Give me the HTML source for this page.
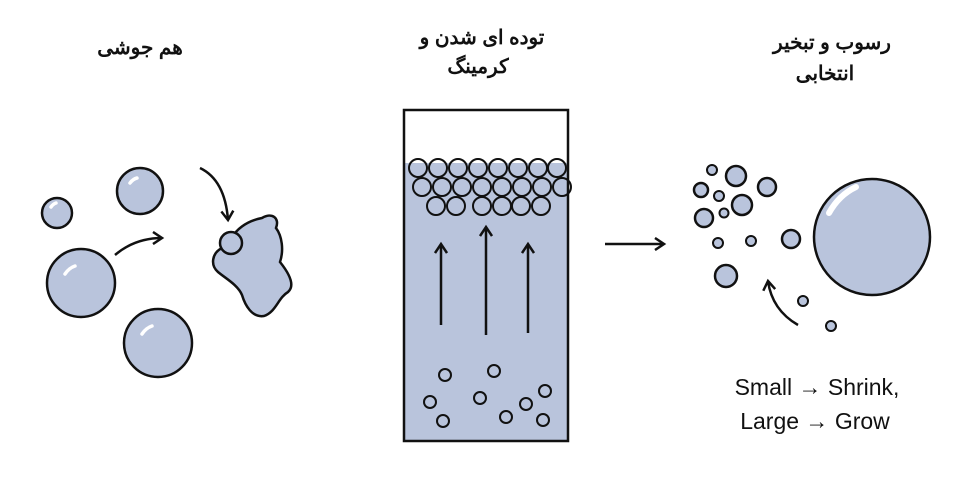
<!DOCTYPE html>
<html><head><meta charset="utf-8"><style>
body{margin:0;width:977px;height:489px;background:#fff;overflow:hidden}
svg{display:block}
.fa{font-family:"Liberation Sans","Noto Sans CJK SC",sans-serif;font-weight:bold;font-size:20px;fill:#111}
.en{font-family:"Liberation Sans",sans-serif;font-size:23px;fill:#111}
</style></head><body>
<svg width="977" height="489" viewBox="0 0 977 489" xmlns="http://www.w3.org/2000/svg">
<defs><marker id="ah" markerWidth="14" markerHeight="14" refX="10" refY="7" orient="auto" markerUnits="userSpaceOnUse"><path d="M1,1 L10,7 L1,13" fill="none" stroke="#111" stroke-width="2.5"/></marker></defs>
<g class="fa" text-anchor="middle">
<text x="140" y="54" direction="rtl">هم جوشی</text>
<text x="482" y="44" direction="rtl">توده ای شدن و</text>
<text x="478" y="73" direction="rtl">کرمینگ</text>
<text x="832" y="49" direction="rtl">رسوب و تبخیر</text>
<text x="825" y="80" direction="rtl">انتخابی</text>
</g>
<g fill="#b9c4dc" stroke="#111" stroke-width="2.5">
<circle cx="57" cy="213" r="15"/><circle cx="140" cy="191" r="23"/>
<circle cx="81" cy="283" r="34"/><circle cx="158" cy="343" r="34"/>
<path d="M232,237 C240,225 252,220 262,218 C272,212 280,218 276,228 C282,236 284,250 280,262 C288,272 296,285 288,292 C278,298 276,312 264,316 C252,318 245,305 242,295 C238,285 225,278 218,272 C210,265 212,253 222,248 Z"/>
<circle cx="231" cy="243" r="11"/>
<circle cx="872" cy="237" r="58"/>
</g>
<g fill="none" stroke="#fff" stroke-width="3.5" stroke-linecap="round">
<path d="M51,207 q2,-3 5,-4"/><path d="M130,183 q3,-4 7,-5"/><path d="M65,274 q4,-6 10,-8"/><path d="M142,334 q4,-6 10,-8"/>
<path d="M829,213 q10,-18 27,-26" stroke-width="6"/>
</g>
<g fill="none" stroke="#111" stroke-width="2.5">
<path d="M115,255 Q135,238 162,238" marker-end="url(#ah)"/>
<path d="M200,168 Q225,180 228,220" marker-end="url(#ah)"/>
<line x1="605" y1="244" x2="664" y2="244" marker-end="url(#ah)"/>
<path d="M798,325 Q772,310 768,281" marker-end="url(#ah)"/>
</g>
<rect x="404" y="163" width="164" height="278" fill="#b9c4dc"/>
<rect x="404" y="110" width="164" height="331" fill="none" stroke="#111" stroke-width="2.5"/>
<g fill="none" stroke="#111" stroke-width="2">
<circle cx="418" cy="168" r="9"/><circle cx="438" cy="168" r="9"/><circle cx="458" cy="168" r="9"/><circle cx="478" cy="168" r="9"/><circle cx="498" cy="168" r="9"/><circle cx="518" cy="168" r="9"/><circle cx="538" cy="168" r="9"/><circle cx="557" cy="168" r="9"/>
<circle cx="422" cy="187" r="9"/><circle cx="442" cy="187" r="9"/><circle cx="462" cy="187" r="9"/><circle cx="482" cy="187" r="9"/><circle cx="502" cy="187" r="9"/><circle cx="522" cy="187" r="9"/><circle cx="542" cy="187" r="9"/><circle cx="562" cy="187" r="9"/>
<circle cx="436" cy="206" r="9"/><circle cx="456" cy="206" r="9"/><circle cx="482" cy="206" r="9"/><circle cx="502" cy="206" r="9"/><circle cx="521" cy="206" r="9"/><circle cx="541" cy="206" r="9"/>
<circle cx="445" cy="375" r="6"/><circle cx="494" cy="371" r="6"/><circle cx="430" cy="402" r="6"/><circle cx="480" cy="398" r="6"/><circle cx="443" cy="421" r="6"/><circle cx="526" cy="404" r="6"/><circle cx="506" cy="417" r="6"/><circle cx="545" cy="391" r="6"/><circle cx="543" cy="420" r="6"/>
</g>
<g fill="none" stroke="#111" stroke-width="2.5">
<line x1="441" y1="325" x2="441" y2="244" marker-end="url(#ah)"/>
<line x1="486" y1="335" x2="486" y2="227" marker-end="url(#ah)"/>
<line x1="528" y1="333" x2="528" y2="244" marker-end="url(#ah)"/>
</g>
<g fill="#b9c4dc" stroke="#111" stroke-width="2.5">
<circle cx="767" cy="187" r="9"/><circle cx="742" cy="205" r="10"/><circle cx="736" cy="176" r="10"/>
<circle cx="701" cy="190" r="7"/><circle cx="704" cy="218" r="9"/><circle cx="726" cy="276" r="11"/><circle cx="791" cy="239" r="9"/>
</g>
<g fill="#b9c4dc" stroke="#111" stroke-width="2">
<circle cx="712" cy="170" r="5"/><circle cx="719" cy="196" r="5"/><circle cx="724" cy="213" r="4.5"/><circle cx="718" cy="243" r="5"/><circle cx="751" cy="241" r="5"/><circle cx="803" cy="301" r="5"/><circle cx="831" cy="326" r="5"/>
</g>
<g class="en" text-anchor="middle">
<text x="817" y="395">Small → Shrink,</text>
<text x="815" y="429">Large → Grow</text>
</g>
</svg>
</body></html>
